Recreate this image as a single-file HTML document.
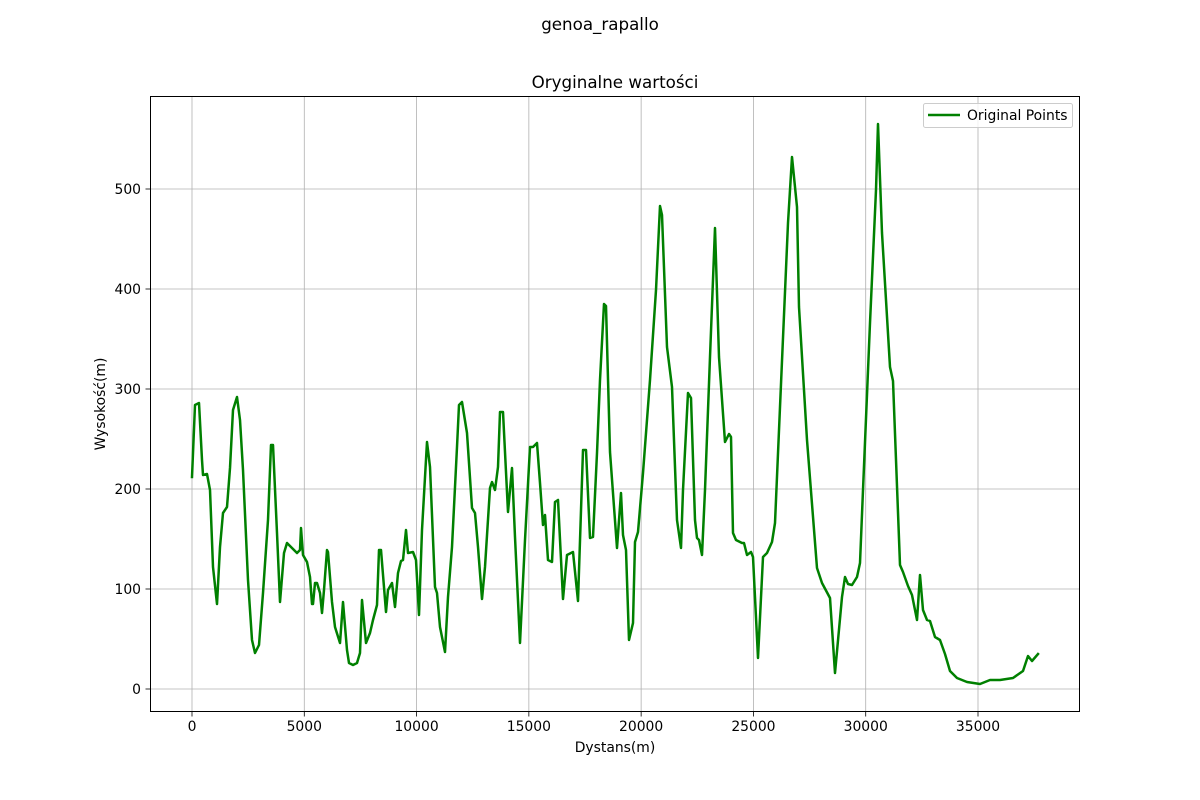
<!DOCTYPE html>
<html><head><meta charset="utf-8"><style>
html,body{margin:0;padding:0;background:#fff;}
svg{display:block;font-family:"DejaVu Sans","Liberation Sans",sans-serif;}
</style></head><body>
<svg id="chart" width="1200" height="800" viewBox="0 0 1200 800">
<rect x="0" y="0" width="1200" height="800" fill="#fff"/>
<text x="600" y="30" font-size="16.7" text-anchor="middle">genoa_rapallo</text>
<text x="615" y="88" font-size="16.7" text-anchor="middle">Oryginalne wartości</text>
<g id="grid"></g>
<g id="ticks"></g>
<g id="plot"></g>
<rect x="150.5" y="96.5" width="929" height="615" fill="none" stroke="#000" stroke-width="1"/>
<text x="615" y="752" font-size="13.9" text-anchor="middle">Dystans(m)</text>
<text x="0" y="0" font-size="13.9" text-anchor="middle" transform="translate(105,404) rotate(-90)">Wysokość(m)</text>
<g>
<rect x="923.5" y="103.5" width="149" height="24" rx="2" fill="#fff" fill-opacity="0.8" stroke="#ccc"/>
<line x1="928" y1="115" x2="960" y2="115" stroke="#008000" stroke-width="2.5"/>
<text x="967" y="120" font-size="13.9">Original Points</text>
</g>
</svg>
<script>
const distances = [0,134,312,445,490,668,802,935,1113,1247,1380,1559,1692,1826,2004,2137,2271,2494,2672,2805,2984,3162,3384,3518,3607,3785,3919,4097,4230,4364,4498,4676,4809,4854,4943,5121,5255,5344,5388,5477,5566,5700,5789,5878,6012,6056,6234,6368,6590,6724,6902,6991,7169,7347,7481,7570,7748,7926,8060,8238,8327,8416,8639,8728,8906,9040,9173,9307,9396,9529,9618,9841,9975,10108,10242,10465,10598,10821,10910,11043,11266,11400,11578,11800,11890,12023,12246,12468,12602,12736,12914,13047,13270,13359,13493,13626,13715,13849,14071,14250,14383,14606,14828,15051,15185,15363,15496,15630,15719,15853,16031,16164,16298,16521,16699,16966,17189,17411,17545,17723,17857,18035,18168,18346,18435,18613,18925,19103,19192,19326,19460,19638,19727,19860,20083,20395,20662,20840,20929,21152,21375,21597,21775,21864,22087,22221,22399,22488,22577,22711,22844,23067,23289,23467,23735,23913,24002,24091,24224,24492,24581,24714,24892,24981,25204,25426,25605,25827,25961,26184,26540,26718,26941,27030,27386,27831,28054,28410,28633,28945,29078,29212,29390,29613,29747,29880,30192,30459,30548,30726,31082,31216,31528,31661,31884,32062,32284,32418,32552,32730,32863,33086,33309,33531,33754,34066,34511,35090,35535,35980,36559,37004,37227,37405,37672];
const elevations = [212,284,286,229,214,215,199,122,85,142,176,182,221,279,292,269,219,109,49,36,44,96,169,244,244,156,87,136,146,143,140,136,139,161,134,127,112,85,85,106,106,96,76,99,139,137,87,62,46,87,39,26,24,26,36,89,46,56,69,84,139,139,77,99,106,82,116,128,129,159,136,137,129,74,159,247,222,102,96,62,37,92,142,242,284,287,256,181,176,142,90,122,201,207,199,222,277,277,177,221,152,46,149,242,242,246,206,164,174,129,127,187,189,90,134,137,88,239,239,151,152,236,309,385,383,237,141,196,154,139,49,66,147,157,216,309,399,483,474,342,302,169,141,199,296,291,169,151,149,134,199,332,461,332,247,255,252,156,149,146,146,134,137,132,31,132,136,147,166,282,466,532,482,382,249,121,106,91,16,92,112,105,104,112,126,199,366,499,565,456,322,308,124,117,103,94,69,114,79,69,68,52,49,35,18,11,7,5,9,9,11,18,33,28,35];
const xTicks = [0,5000,10000,15000,20000,25000,30000,35000];
const yTicks = [0,100,200,300,400,500];

const NS = "http://www.w3.org/2000/svg";
const X0 = 192, XPER = 786/35000, Y0 = 689, YPER = 1;
function sx(v){ return X0 + v*XPER; }
function sy(v){ return Y0 - v*YPER; }
function mk(tag, attrs, parent){
  const e = document.createElementNS(NS, tag);
  for (const k in attrs) e.setAttribute(k, attrs[k]);
  parent.appendChild(e);
  return e;
}
const grid = document.getElementById('grid');
const ticks = document.getElementById('ticks');
const plot = document.getElementById('plot');

xTicks.forEach(t => {
  const x = sx(t);
  const g = mk('line', {x1:x, y1:97, x2:x, y2:711, stroke:'#b0b0b0', 'stroke-width':0.8}, grid);
  
  
  const tk = mk('line', {x1:x, y1:712, x2:x, y2:716.5, stroke:'#000', 'stroke-width':0.8}, ticks);
  
  
  const lb = mk('text', {x:x, y:731, 'font-size':13.9, 'text-anchor':'middle'}, ticks);
  lb.textContent = String(t);
  
  
});
yTicks.forEach(t => {
  const y = sy(t);
  const g = mk('line', {x1:151, y1:y, x2:1079, y2:y, stroke:'#b0b0b0', 'stroke-width':0.8}, grid);
  
  
  const tk = mk('line', {x1:145.5, y1:y, x2:150, y2:y, stroke:'#000', 'stroke-width':0.8}, ticks);
  
  
  const lb = mk('text', {x:141, y:y+5, 'font-size':13.9, 'text-anchor':'end'}, ticks);
  lb.textContent = String(t);
  
  
});
const pts = distances.map((d,i) => sx(d).toFixed(1) + ',' + sy(elevations[i]).toFixed(1)).join(' ');
const line = mk('polyline', {points:pts, fill:'none', stroke:'#008000', 'stroke-width':2.5, 'stroke-linejoin':'round', 'stroke-linecap':'square'}, plot);


</script>
</body></html>
